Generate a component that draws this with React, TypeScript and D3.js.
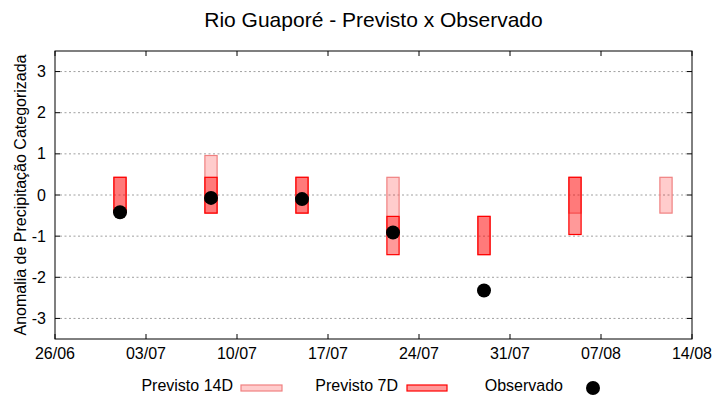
import React from "react";
import * as d3 from "d3";

const weeks = ["2023-07-01", "2023-07-08", "2023-07-15", "2023-07-22", "2023-07-29", "2023-08-05", "2023-08-12"];
const prev14Low: (number | null)[] = [-0.43, -0.44, -0.44, -0.97, -1.45, -0.44, -0.44];
const prev14High: (number | null)[] = [0.43, 0.96, 0.43, 0.43, -0.52, 0.43, 0.43];
const prev7Low: (number | null)[] = [-0.43, -0.44, -0.44, -1.45, -1.45, -0.96, null];
const prev7High: (number | null)[] = [0.43, 0.43, 0.43, -0.52, -0.52, 0.43, null];
const observed: (number | null)[] = [-0.42, -0.07, -0.1, -0.91, -2.32, null, null];
const xTickLabels = ["26/06", "03/07", "10/07", "17/07", "24/07", "31/07", "07/08", "14/08"];
const xTickDates = ["2023-06-26", "2023-07-03", "2023-07-10", "2023-07-17", "2023-07-24", "2023-07-31", "2023-08-07", "2023-08-14"];
const yTicks = [-3, -2, -1, 0, 1, 2, 3];

const W = 720, H = 400;
const M = { left: 55, right: 692, top: 51, bottom: 339 };
const FONT = "'Liberation Sans', Arial, sans-serif";
const DAY = 86400000;

export default function App() {
  const parse = (s: string) => new Date(s + "T00:00:00Z");
  const x = d3.scaleUtc().domain([parse("2023-06-26"), parse("2023-08-14")]).range([M.left, M.right]);
  const y = d3.scaleLinear().domain([-3.5, 3.5]).range([M.bottom, M.top]);
  const half = 0.47;
  const bx = (s: string) => x(new Date(parse(s).getTime() - half * DAY));
  const bw = (s: string) => x(new Date(parse(s).getTime() + half * DAY)) - bx(s);

  return (
    <svg width={W} height={H} style={{ position: "absolute", left: 0, top: 0, background: "#fff" }} fontFamily={FONT}>
      <rect x={0} y={0} width={W} height={H} fill="#fff" />
      <text x={(M.left + M.right) / 2} y={27} textAnchor="middle" fontSize={21} fill="#000">
        Rio Guaporé - Previsto x Observado
      </text>
      {/* grid */}
      {yTicks.map((t) => (
        <line key={"g" + t} x1={M.left + 5} x2={M.right - 5} y1={y(t)} y2={y(t)} stroke="#a0a0a0" strokeWidth={1} strokeDasharray="2,2.5" />
      ))}
      {/* y ticks */}
      {yTicks.map((t) => (
        <g key={"yt" + t}>
          <line x1={M.left} x2={M.left + 5} y1={y(t)} y2={y(t)} stroke="#000" />
          <line x1={M.right} x2={M.right - 5} y1={y(t)} y2={y(t)} stroke="#000" />
          <text x={46} y={y(t) + 5.5} textAnchor="end" fontSize={16} fill="#000">{t}</text>
        </g>
      ))}
      {/* x ticks */}
      {xTickDates.map((d, i) => (
        <g key={"xt" + d}>
          <line x1={x(parse(d))} x2={x(parse(d))} y1={M.bottom} y2={M.bottom - 5} stroke="#000" />
          <line x1={x(parse(d))} x2={x(parse(d))} y1={M.top} y2={M.top + 5} stroke="#000" />
          <text x={x(parse(d))} y={359} textAnchor="middle" fontSize={16} fill="#000">{xTickLabels[i]}</text>
        </g>
      ))}
      {/* 14D bars */}
      {weeks.map((w, i) =>
        prev14Low[i] !== null && prev14High[i] !== null ? (
          <rect key={"p14" + w} x={bx(w)} width={bw(w)} y={y(prev14High[i] as number)}
            height={y(prev14Low[i] as number) - y(prev14High[i] as number)}
            fill="rgba(255,0,0,0.2)" stroke="#f08080" strokeWidth={1.2} />
        ) : null
      )}
      {/* 7D bars */}
      {weeks.map((w, i) =>
        prev7Low[i] !== null && prev7High[i] !== null ? (
          <rect key={"p7" + w} x={bx(w)} width={bw(w)} y={y(prev7High[i] as number)}
            height={y(prev7Low[i] as number) - y(prev7High[i] as number)}
            fill="rgba(255,0,0,0.4)" stroke="#ff0000" strokeWidth={1.2} />
        ) : null
      )}
      {/* observed */}
      {weeks.map((w, i) =>
        observed[i] !== null ? (
          <circle key={"o" + w} cx={x(parse(w))} cy={y(observed[i] as number)} r={7} fill="#000" />
        ) : null
      )}
      {/* border */}
      <rect x={M.left} y={M.top} width={M.right - M.left} height={M.bottom - M.top} fill="none" stroke="#000" strokeWidth={1} />
      {/* y label */}
      <text transform={`translate(26,${(M.top + M.bottom) / 2}) rotate(-90)`} textAnchor="middle" fontSize={16} fill="#000">
        Anomalia de Precipitação Categorizada
      </text>
      {/* legend */}
      <text x={233} y={391} textAnchor="end" fontSize={16} fill="#000">Previsto 14D</text>
      <rect x={241} y={385} width={41} height={6} fill="rgba(255,0,0,0.2)" stroke="#f08080" strokeWidth={1.2} />
      <text x={398} y={391} textAnchor="end" fontSize={16} fill="#000">Previsto 7D</text>
      <rect x={407} y={385} width={40} height={6} fill="rgba(255,0,0,0.4)" stroke="#ff0000" strokeWidth={1.2} />
      <text x={563} y={391} textAnchor="end" fontSize={16} fill="#000">Observado</text>
      <circle cx={593} cy={388} r={7} fill="#000" />
    </svg>
  );
}
